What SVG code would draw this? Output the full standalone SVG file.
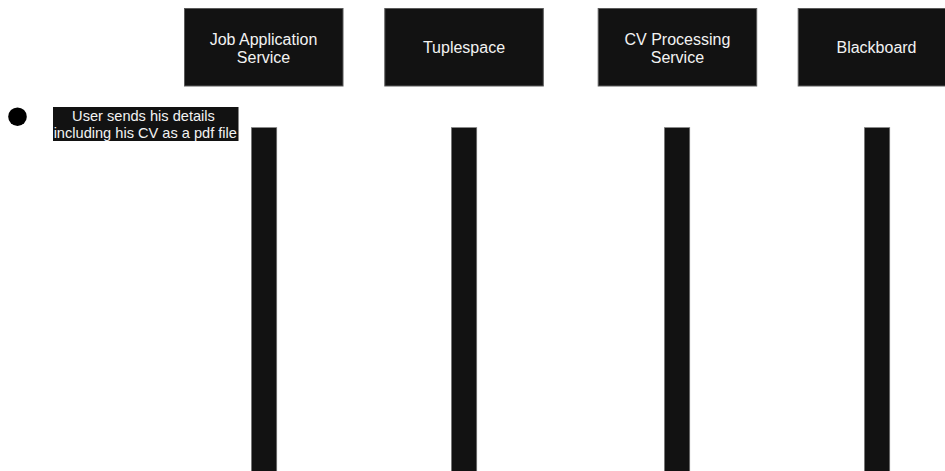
<svg xmlns="http://www.w3.org/2000/svg" width="945" height="471" viewBox="0 0 945 471">
  <style>
    .box { fill: #121212; stroke: #5a5a5a; stroke-width: 1; }
    .bar { fill: #121212; stroke: #8a8a8a; stroke-width: 0.6; }
    .title { fill: #f2f2f2; font-family: "Liberation Sans", Arial, sans-serif; font-size: 16px; text-anchor: middle; }
    .note { fill: #f2f2f2; font-family: "Liberation Sans", Arial, sans-serif; font-size: 14.6px; text-anchor: middle; }
  </style>
  <rect width="945" height="471" fill="#ffffff"/>

  <!-- participants -->
  <g id="job-application-service">
    <rect class="box" x="184.5" y="8.5" width="158.5" height="77.5"/>
    <text class="title" x="263.5" y="45">Job Application</text>
    <text class="title" x="263.5" y="62.7">Service</text>
  </g>
  <g id="tuplespace">
    <rect class="box" x="384.8" y="8.5" width="158.5" height="77.5"/>
    <text class="title" x="464" y="53.3">Tuplespace</text>
  </g>
  <g id="cv-processing-service">
    <rect class="box" x="598.2" y="8.5" width="158.5" height="77.5"/>
    <text class="title" x="677.4" y="45">CV Processing</text>
    <text class="title" x="677.4" y="62.7">Service</text>
  </g>
  <g id="blackboard">
    <rect class="box" x="798.2" y="8.5" width="158.5" height="77.5"/>
    <text class="title" x="876.5" y="53.3">Blackboard</text>
  </g>

  <!-- start point and first message -->
  <g id="start">
    <circle cx="17.5" cy="116.7" r="9.3" fill="#000000"/>
  </g>
  <g id="user-message">
    <rect x="53" y="107" width="185.5" height="34" fill="#121212"/>
    <text class="note" x="143.5" y="120.7">User sends his details</text>
    <text class="note" x="145.3" y="137.7">including his CV as a pdf file</text>
  </g>

  <!-- lifeline activation bars -->
  <g id="connectors">
    <rect class="bar" x="251.3" y="127.5" width="25.5" height="350"/>
    <rect class="bar" x="451.3" y="127.5" width="25.5" height="350"/>
    <rect class="bar" x="664.3" y="127.5" width="25.5" height="350"/>
    <rect class="bar" x="864.3" y="127.5" width="25.5" height="350"/>
  </g>
</svg>
